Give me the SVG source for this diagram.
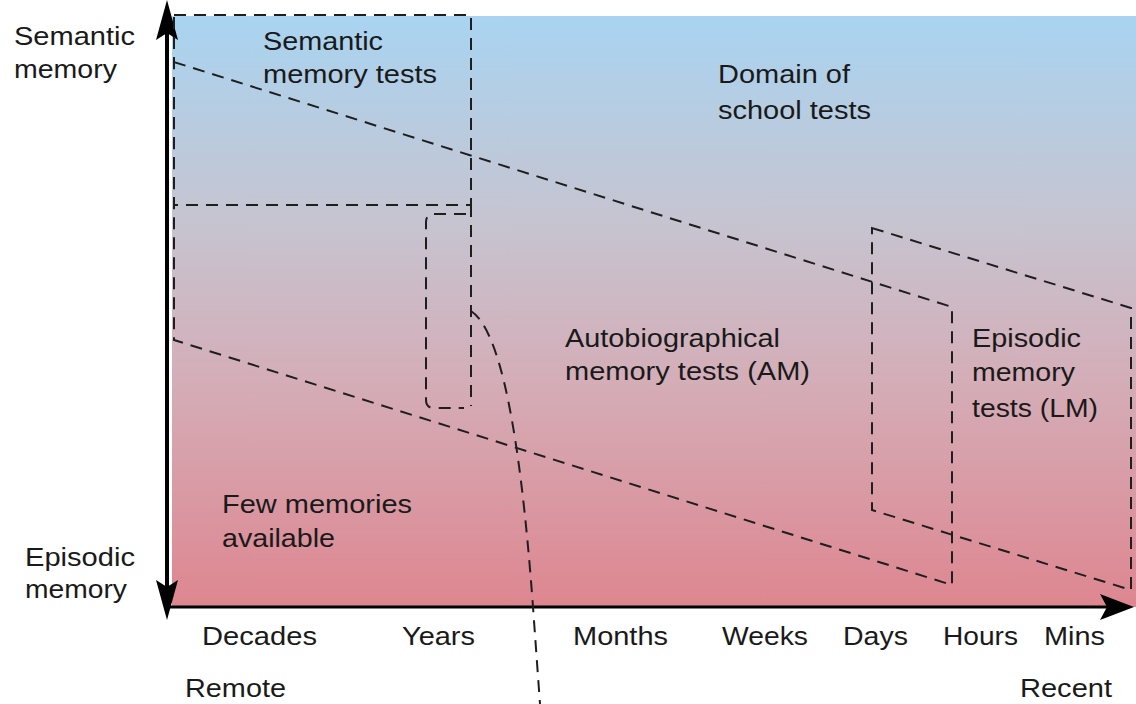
<svg xmlns="http://www.w3.org/2000/svg" width="1136" height="704" viewBox="0 0 1136 704">
  <style>
    .t { font-family: "Liberation Sans", Arial, sans-serif; font-size: 25px; fill: #1a1a1a; }
    .d { fill: none; stroke: #1e1e1e; stroke-width: 2; stroke-dasharray: 12 8; }
    .ax { fill: none; stroke: #000; }
  </style>
  <defs>
    <linearGradient id="bg" x1="0" y1="0" x2="0" y2="1">
      <stop offset="0" stop-color="#a9d4f1"/>
      <stop offset="0.35" stop-color="#c6c4d0"/>
      <stop offset="0.62" stop-color="#d4adb7"/>
      <stop offset="1" stop-color="#de8690"/>
    </linearGradient>
    <marker id="av" viewBox="0 0 40 22" refX="32" refY="11" markerWidth="40" markerHeight="22" markerUnits="userSpaceOnUse" orient="auto-start-reverse">
      <path d="M0,0 L40,11 L0,22 L7,11 Z" fill="#000"/>
    </marker>
    <marker id="ah" viewBox="0 0 34 26" refX="28" refY="13" markerWidth="34" markerHeight="26" markerUnits="userSpaceOnUse" orient="auto">
      <path d="M0,0 L34,13 L0,26 L7,13 Z" fill="#000"/>
    </marker>
  </defs>

  <rect id="background" x="172" y="16" width="964" height="591" fill="url(#bg)"/>

  <g id="connectors">
    <path class="ax" d="M167,8 V612" stroke-width="4" marker-start="url(#av)" marker-end="url(#av)"/>
    <path class="ax" d="M169,607 H1128" stroke-width="3" marker-end="url(#ah)"/>
    <path class="d" d="M471,311 C500,330 520,430 533,607 L540,704"/>
  </g>

  <g id="semantic-tests">
    <rect class="d" x="174" y="15" width="297" height="190"/>
    <text class="t" x="263" y="50" textLength="120" lengthAdjust="spacingAndGlyphs">Semantic</text>
    <text class="t" x="263" y="83" textLength="174" lengthAdjust="spacingAndGlyphs">memory tests</text>
  </g>

  <g id="years-window">
    <path class="d" d="M471,205 V406"/>
    <path class="d" d="M466,214 H434 Q426,214 426,222 V400 Q426,408 434,408 H464"/>
  </g>

  <g id="school-domain">
    <text class="t" x="718" y="83" textLength="132" lengthAdjust="spacingAndGlyphs">Domain of</text>
    <text class="t" x="718" y="119" textLength="153" lengthAdjust="spacingAndGlyphs">school tests</text>
  </g>

  <g id="am-tests">
    <path class="d" d="M174,62 L952,307 L952,585 L174,340 Z"/>
    <text class="t" x="565" y="347" textLength="215" lengthAdjust="spacingAndGlyphs">Autobiographical</text>
    <text class="t" x="565" y="380" textLength="245" lengthAdjust="spacingAndGlyphs">memory tests (AM)</text>
  </g>

  <g id="lm-tests">
    <path class="d" d="M872,228 L1131,308 L1131,590 L872,510 Z"/>
    <text class="t" x="972" y="347" textLength="109" lengthAdjust="spacingAndGlyphs">Episodic</text>
    <text class="t" x="972" y="381" textLength="103" lengthAdjust="spacingAndGlyphs">memory</text>
    <text class="t" x="972" y="417" textLength="126" lengthAdjust="spacingAndGlyphs">tests (LM)</text>
  </g>

  <g id="few-memories">
    <text class="t" x="222" y="513" textLength="190" lengthAdjust="spacingAndGlyphs">Few memories</text>
    <text class="t" x="222" y="547" textLength="113" lengthAdjust="spacingAndGlyphs">available</text>
  </g>

  <g id="y-axis-labels">
    <text class="t" x="14" y="45" textLength="121" lengthAdjust="spacingAndGlyphs">Semantic</text>
    <text class="t" x="14" y="78" textLength="103" lengthAdjust="spacingAndGlyphs">memory</text>
    <text class="t" x="25" y="566" textLength="110" lengthAdjust="spacingAndGlyphs">Episodic</text>
    <text class="t" x="25" y="598" textLength="102" lengthAdjust="spacingAndGlyphs">memory</text>
  </g>

  <g id="x-axis-labels">
    <text class="t" x="202" y="645" textLength="115" lengthAdjust="spacingAndGlyphs">Decades</text>
    <text class="t" x="402" y="645" textLength="73" lengthAdjust="spacingAndGlyphs">Years</text>
    <text class="t" x="573" y="645" textLength="95" lengthAdjust="spacingAndGlyphs">Months</text>
    <text class="t" x="722" y="645" textLength="86" lengthAdjust="spacingAndGlyphs">Weeks</text>
    <text class="t" x="843" y="645" textLength="65" lengthAdjust="spacingAndGlyphs">Days</text>
    <text class="t" x="943" y="645" textLength="75" lengthAdjust="spacingAndGlyphs">Hours</text>
    <text class="t" x="1044" y="645" textLength="61" lengthAdjust="spacingAndGlyphs">Mins</text>
    <text class="t" x="185" y="697" textLength="101" lengthAdjust="spacingAndGlyphs">Remote</text>
    <text class="t" x="1020" y="697" textLength="92" lengthAdjust="spacingAndGlyphs">Recent</text>
  </g>
</svg>
